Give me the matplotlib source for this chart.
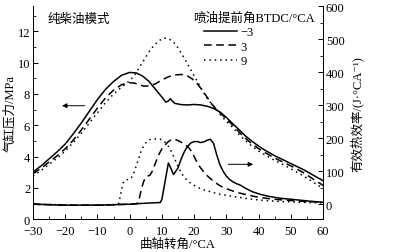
import matplotlib
matplotlib.use('Agg')
import matplotlib.pyplot as plt
from matplotlib.ticker import MultipleLocator

plt.rcParams['font.family'] = ['Liberation Serif', 'Noto Sans CJK SC', 'DejaVu Serif']
plt.rcParams['font.size'] = 9
plt.rcParams['axes.unicode_minus'] = True

# Cylinder pressure (MPa) vs crank angle, one array pair per injection timing
ca_p_m3 = [-30, -27.5, -25, -22.5, -20, -17.5, -15, -12.5, -10, -7.5, -5, -2.5, 0, 2, 4, 6, 8, 10,
           11.2, 12, 12.6, 13.2, 14, 16, 18, 20, 22, 24, 26, 28, 30, 32, 34, 36, 38, 40, 42, 45,
           48, 51, 54, 57, 60]
p_m3 = [3.0, 3.4, 3.85, 4.3, 4.8, 5.45, 6.15, 6.9, 7.65, 8.3, 8.8, 9.2, 9.38, 9.35, 9.15, 8.8, 8.3,
        7.8, 7.48, 7.55, 7.7, 7.55, 7.4, 7.32, 7.3, 7.33, 7.3, 7.22, 7.08, 6.85, 6.5, 6.1, 5.7, 5.3,
        4.97, 4.67, 4.4, 4.05, 3.75, 3.45, 3.15, 2.8, 2.45]

ca_p_3 = [-30, -27.5, -25, -22.5, -20, -17.5, -15, -12.5, -10, -7.5, -5, -2.5, 0, 1.5, 3, 4.5, 6,
          8, 10, 12, 14, 16, 18, 19.5, 21, 22.5, 24, 25.5, 27, 28, 30, 32, 34, 36, 38, 40, 42, 45,
          48, 51, 54, 57, 60]
p_3 = [2.9, 3.25, 3.65, 4.05, 4.5, 5.05, 5.7, 6.4, 7.1, 7.75, 8.25, 8.6, 8.72, 8.7, 8.58, 8.5, 8.52,
       8.65, 8.9, 9.1, 9.22, 9.25, 9.15, 8.95, 8.65, 8.25, 7.8, 7.35, 7.0, 6.8, 6.4, 6.0, 5.55, 5.15,
       4.8, 4.5, 4.25, 3.9, 3.6, 3.3, 2.95, 2.55, 2.15]

ca_p_9 = [-30, -27.5, -25, -22.5, -20, -17.5, -15, -12.5, -10, -7.5, -5, -2.5, 0, 1.5, 3, 4.5, 6,
          7.5, 9, 10.5, 12, 13.5, 15, 16.5, 18, 19.5, 21, 22.5, 24, 25.5, 27, 28, 30, 32, 34, 36,
          38, 40, 42, 45, 48, 51, 54, 57, 60]
p_9 = [2.75, 3.1, 3.5, 3.9, 4.35, 4.9, 5.5, 6.15, 6.8, 7.45, 8.0, 8.45, 8.85, 9.2, 9.7, 10.2, 10.7,
       11.1, 11.4, 11.58, 11.55, 11.35, 10.95, 10.45, 9.9, 9.35, 8.8, 8.25, 7.75, 7.35, 7.0, 6.7,
       6.25, 5.85, 5.4, 5.0, 4.65, 4.35, 4.1, 3.75, 3.45, 3.1, 2.75, 2.35, 1.95]

# Heat release rate (J/°CA)
ca_q_m3 = [-30, -20, -10, 0, 5, 9.5, 10, 11, 12, 12.5, 13.6, 15, 16, 17, 18, 19, 20, 21, 22, 23,
           24, 25, 26, 27, 28, 29, 30, 31, 32, 33, 34.3, 36, 38, 40.5, 43, 46.7, 50, 53, 56, 60]
q_m3 = [0, -3, -3, 0, 3, 5, 15, 70, 125, 115, 90, 110, 138, 160, 176, 186, 190, 190, 187, 189,
        194, 197, 185, 150, 120, 100, 85, 75, 68, 63, 58, 48, 38, 30, 24, 18, 15, 12, 9, 6]

ca_q_3 = [-30, -20, -10, 0, 2, 2.7, 3.5, 4.2, 4.8, 5.5, 6.3, 7, 8, 9, 10, 11, 12, 13, 14, 15, 16,
          17, 18, 19, 20, 21, 22, 23, 24, 25, 26.5, 28, 30, 32, 34, 37, 40, 43, 46, 50, 55, 60]
q_3 = [0, -3, -3, 0, 1, 5, 40, 65, 80, 85, 88, 100, 125, 150, 168, 180, 190, 196, 197, 193, 188,
       182, 175, 163, 145, 125, 110, 98, 87, 78, 66, 56, 47, 40, 34, 27, 21, 17, 14, 11, 8, 6]

ca_q_9 = [-30, -15, -5, -3.5, -3, -2.5, -2, -1.5, -1, -0.3, 0.5, 1.5, 2.5, 3.5, 4.5, 5.5, 6.5, 8,
          9.5, 10.5, 11.5, 12.5, 13.5, 14.5, 15.5, 16.5, 17.5, 19, 20.5, 22, 24, 26, 28, 30, 33,
          37, 41, 45, 50, 55, 60]
q_9 = [0, -3, -3, 0, 20, 45, 65, 72, 75, 74, 80, 100, 130, 160, 180, 192, 197, 198, 197, 193, 183,
       168, 148, 125, 105, 88, 76, 63, 54, 47, 41, 35, 30, 27, 22, 16, 12, 9, 7, 5, 4]

labels = ['\u22123', '3', '9']
styles = ['-', (0, (5, 3)), (0, (1, 2.5))]

fig = plt.figure(figsize=(3.93, 2.53), dpi=100)
ax = fig.add_axes([0.084, 0.1304, 0.738, 0.840])
ax2 = ax.twinx()

lines = []
for ca, p, ls, lab in zip([ca_p_m3, ca_p_3, ca_p_9], [p_m3, p_3, p_9], styles, labels):
    ln, = ax.plot(ca, p, color='black', linestyle=ls, lw=1.1, label=lab)
    lines.append(ln)
for ca, q, ls in zip([ca_q_m3, ca_q_3, ca_q_9], [q_m3, q_3, q_9], styles):
    ax2.plot(ca, q, color='black', linestyle=ls, lw=1.1)

ax.set_xlim(-30, 60)
ax.set_ylim(0, 13.6)
ax2.set_ylim(-45, 600)
ax.xaxis.set_major_locator(MultipleLocator(10))
ax.xaxis.set_minor_locator(MultipleLocator(5))
ax.yaxis.set_major_locator(MultipleLocator(2))
ax.yaxis.set_minor_locator(MultipleLocator(1))
ax2.set_yticks([0, 100, 200, 300, 400, 500, 600])
ax2.yaxis.set_minor_locator(MultipleLocator(50))

for a in (ax, ax2):
    a.spines['top'].set_visible(False)
    a.tick_params(which='major', direction='in', length=3.5, width=0.7, labelsize=9, pad=2)
    a.tick_params(which='minor', direction='in', length=2, width=0.6)
    for s in a.spines.values():
        s.set_linewidth(0.7)
ax.tick_params(axis='x', pad=4.5)

ax.set_xlabel('曲轴转角/°CA', fontsize=9, labelpad=0)
ax.set_ylabel('气缸压力/MPa', fontsize=9, labelpad=1)
ax2.set_ylabel('有效热效率/(J·°CA⁻¹)', fontsize=9, labelpad=4)

ax.text(-25.5, 12.8, '纯柴油模式', fontsize=9, va='center')

ax.annotate('', xy=(-21, 7.25), xytext=(-14, 7.25),
            arrowprops=dict(arrowstyle='-|>', lw=0.7, color='black', mutation_scale=7,
                            shrinkA=0, shrinkB=0))
ax2.annotate('', xy=(38.3, 121), xytext=(30.6, 121),
             arrowprops=dict(arrowstyle='-|>', lw=0.7, color='black', mutation_scale=7,
                             shrinkA=0, shrinkB=0))

fig.text(193 / 393, 1 - 18 / 253, '喷油提前角BTDC/°CA', fontsize=9, va='center')
ax2.legend(lines, labels, loc='upper left',
           bbox_to_anchor=(203 / 393, 1 - 26 / 253), bbox_transform=fig.transFigure,
           frameon=False, fontsize=9, handlelength=2.6,
           labelspacing=0.2, handletextpad=0.3, borderpad=0.1, borderaxespad=0)

fig.savefig('out.png', dpi=100)
